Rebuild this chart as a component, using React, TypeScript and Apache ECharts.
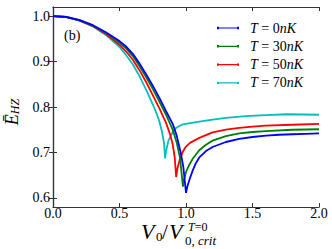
import React, { useEffect, useRef } from "react";
import * as echarts from "echarts";

const seriesNames = ["T = 0nK", "T = 30nK", "T = 50nK", "T = 70nK"];
const seriesColors = ["#0000ff", "#008000", "#ff0000", "#00bfbf"];

const x0 = [0, 0.1, 0.2, 0.3, 0.4, 0.5, 0.55, 0.6, 0.65, 0.7, 0.75, 0.8, 0.85, 0.9, 0.93, 0.96, 0.98, 1.0, 1.01, 1.027, 1.05, 1.075, 1.1, 1.15, 1.2, 1.3, 1.4, 1.5, 1.6, 1.7, 1.8, 1.9, 2.0];
const y0 = [1.0, 0.998, 0.991, 0.98, 0.964, 0.945, 0.933, 0.917, 0.896, 0.872, 0.847, 0.82, 0.791, 0.763, 0.737, 0.7, 0.668, 0.611, 0.625, 0.641, 0.66, 0.677, 0.689, 0.703, 0.712, 0.723, 0.73, 0.734, 0.737, 0.739, 0.74, 0.741, 0.742];

const x30 = [0, 0.1, 0.2, 0.3, 0.4, 0.5, 0.55, 0.6, 0.65, 0.7, 0.75, 0.8, 0.85, 0.9, 0.93, 0.955, 0.977, 0.985, 1.0, 1.025, 1.05, 1.1, 1.15, 1.2, 1.3, 1.4, 1.5, 1.6, 1.8, 2.0];
const y30 = [1.0, 0.998, 0.991, 0.979, 0.963, 0.942, 0.929, 0.912, 0.89, 0.866, 0.84, 0.812, 0.783, 0.75, 0.722, 0.688, 0.625, 0.64, 0.657, 0.673, 0.686, 0.705, 0.717, 0.726, 0.736, 0.742, 0.745, 0.747, 0.75, 0.751];

const x50 = [0, 0.1, 0.2, 0.3, 0.4, 0.5, 0.55, 0.6, 0.65, 0.7, 0.75, 0.8, 0.85, 0.88, 0.9, 0.915, 0.926, 0.935, 0.951, 0.977, 1.0, 1.03, 1.1, 1.2, 1.3, 1.4, 1.5, 1.6, 1.8, 2.0];
const y50 = [1.0, 0.998, 0.99, 0.978, 0.96, 0.937, 0.922, 0.904, 0.881, 0.855, 0.826, 0.797, 0.765, 0.74, 0.718, 0.69, 0.646, 0.664, 0.682, 0.702, 0.713, 0.721, 0.732, 0.744, 0.75, 0.754, 0.757, 0.759, 0.761, 0.763];

const x70 = [0, 0.1, 0.2, 0.3, 0.4, 0.5, 0.55, 0.6, 0.65, 0.7, 0.75, 0.78, 0.8, 0.82, 0.835, 0.843, 0.85, 0.868, 0.9, 0.93, 0.97, 1.02, 1.1, 1.2, 1.3, 1.45, 1.6, 1.76, 2.0];
const y70 = [1.0, 0.998, 0.99, 0.977, 0.958, 0.932, 0.914, 0.894, 0.868, 0.838, 0.806, 0.785, 0.768, 0.745, 0.72, 0.687, 0.703, 0.726, 0.745, 0.755, 0.761, 0.764, 0.768, 0.772, 0.776, 0.78, 0.782, 0.784, 0.783];

const xs = [x0, x30, x50, x70];
const ys = [y0, y30, y50, y70];

const yTicks = [0.6, 0.7, 0.8, 0.9, 1.0];

const SERIF = "'Liberation Serif', 'DejaVu Serif', serif";

export default function App() {
  const ref = useRef<HTMLDivElement>(null);
  useEffect(() => {
    if (!ref.current) return;
    const chart = echarts.init(ref.current, undefined, { renderer: "svg" });
    const axisLine = { show: true, lineStyle: { color: "#333", width: 1.2 } };
    const tick = { show: true, inside: true, length: 4, lineStyle: { color: "#333" } };
    chart.setOption({
      animation: false,
      grid: { left: 53, top: 7, right: 13, bottom: 42 },
      legend: {
        orient: "vertical",
        left: 212,
        top: 16,
        itemWidth: 22,
        itemHeight: 4,
        itemGap: 4.3,
        icon: "path://M0,1.4 L22,1.4 L22,2.6 L0,2.6 Z M0,0.8 L2,0.8 L2,3.2 L0,3.2 Z M20,0.8 L22,0.8 L22,3.2 L20,3.2 Z",
        data: seriesNames,
        formatter: (name: string) => {
          const m = name.match(/T = (\d+)nK/);
          return `{it|T}{rm| = ${m ? m[1] : ""}}{it|nK}`;
        },
        textStyle: {
          padding: [0, 0, 0, 6],
          rich: {
            it: { fontFamily: SERIF, fontStyle: "italic", fontSize: 14, color: "#000" },
            rm: { fontFamily: SERIF, fontSize: 14, color: "#000" },
          },
        },
      },
      xAxis: [
        {
          type: "value",
          min: 0,
          max: 2,
          interval: 0.5,
          axisLine,
          axisTick: tick,
          splitLine: { show: false },
          axisLabel: {
            formatter: (v: number) => v.toFixed(1),
            fontFamily: SERIF,
            fontSize: 14,
            color: "#000",
            margin: 0,
            lineHeight: 12,
          },
        },
        {
          type: "value",
          position: "top",
          min: 0,
          max: 2,
          interval: 0.5,
          axisLine,
          axisTick: tick,
          splitLine: { show: false },
          axisLabel: { show: false },
        },
      ],
      yAxis: [
        {
          type: "value",
          min: 0.58,
          max: 1.02,
          axisLine,
          axisTick: { ...tick, customValues: yTicks },
          splitLine: { show: false },
          axisLabel: {
            customValues: yTicks,
            formatter: (v: number) => v.toFixed(1),
            fontFamily: SERIF,
            fontSize: 14,
            color: "#000",
            margin: 3,
          },
        },
        {
          type: "value",
          position: "right",
          min: 0.58,
          max: 1.02,
          axisLine,
          axisTick: { ...tick, customValues: yTicks },
          splitLine: { show: false },
          axisLabel: { show: false },
        },
      ],
      series: seriesNames.map((name, i) => ({
        name,
        type: "line",
        xAxisIndex: 0,
        yAxisIndex: 0,
        data: xs[i].map((x, j) => [x, ys[i][j]]),
        showSymbol: false,
        smooth: false,
        color: seriesColors[i],
        lineStyle: { color: seriesColors[i], width: 1.8 },
        z: 2 + (3 - i),
      })),
      graphic: [
        {
          type: "text",
          x: 64,
          y: 35,
          style: { text: "(b)", font: `14px ${SERIF}`, fill: "#000", verticalAlign: "middle" },
        },
        {
          type: "text",
          x: 12,
          y: 112,
          rotation: Math.PI / 2,
          style: {
            text: "{e|Ē}{s|HZ}",
            align: "center",
            verticalAlign: "middle",
            rich: {
              e: { fontFamily: SERIF, fontStyle: "italic", fontSize: 18, fill: "#000" },
              s: { fontFamily: SERIF, fontStyle: "italic", fontSize: 12, fill: "#000", verticalAlign: "bottom", padding: [6, 0, 0, 0] },
            },
          },
        },
        {
          type: "text",
          x: 141,
          y: 231,
          style: { text: "V", font: `italic 22px ${SERIF}`, fill: "#000", verticalAlign: "middle" },
        },
        {
          type: "text",
          x: 156,
          y: 236,
          style: { text: "0", font: `13px ${SERIF}`, fill: "#000", verticalAlign: "middle" },
        },
        {
          type: "text",
          x: 162,
          y: 232,
          style: { text: "/", font: `21px ${SERIF}`, fill: "#000", verticalAlign: "middle" },
        },
        {
          type: "text",
          x: 169,
          y: 231,
          style: { text: "V", font: `italic 22px ${SERIF}`, fill: "#000", verticalAlign: "middle" },
        },
        {
          type: "text",
          x: 188,
          y: 227,
          style: {
            text: "{i|T}{r|=0}",
            verticalAlign: "middle",
            rich: {
              i: { fontFamily: SERIF, fontStyle: "italic", fontSize: 12, lineHeight: 9, fill: "#000" },
              r: { fontFamily: SERIF, fontSize: 12, lineHeight: 9, fill: "#000" },
            },
          },
        },
        {
          type: "text",
          x: 185,
          y: 240,
          style: {
            text: "{r|0,}{i| crit}",
            verticalAlign: "middle",
            rich: {
              i: { fontFamily: SERIF, fontStyle: "italic", fontSize: 13, lineHeight: 11, fill: "#000" },
              r: { fontFamily: SERIF, fontSize: 13, lineHeight: 11, fill: "#000" },
            },
          },
        },
      ],
    });
    return () => chart.dispose();
  }, []);
  return <div ref={ref} style={{ width: 332, height: 249, position: "absolute", left: 0, top: 0 }} />;
}
